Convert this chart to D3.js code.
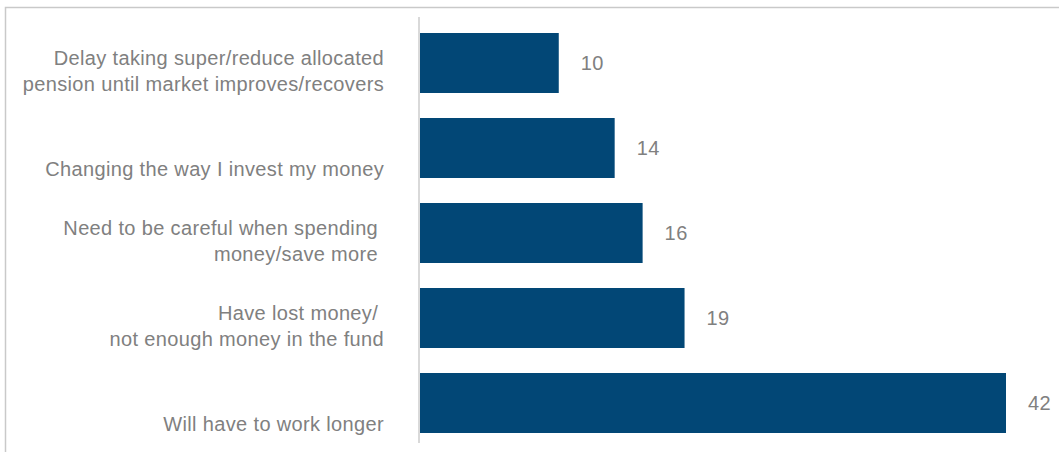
<!DOCTYPE html>
<html>
<head>
<meta charset="utf-8">
<script src="https://cdn.jsdelivr.net/npm/d3@7"></script>
<style>
  body { margin: 0; background: #fff; }
  text { font-family: "Liberation Sans", Arial, sans-serif; white-space: pre; }
</style>
</head>
<body>
<div id="chart"></div>
<script>
// categories, top to bottom ("\n" splits a label in two lines)
const categories = [
    "Delay taking super/reduce allocated\npension until market improves/recovers",
    "\nChanging the way I invest my money",
    "Need to be careful when spending \nmoney/save more ",
    "Have lost money/ \nnot enough money in the fund",
    "\nWill have to work longer"
];
const values = [10, 14, 16, 19, 42];

function main() {
    const width = 1059;
    const height = 452;

    const svg = d3.select("#chart").append("svg")
        .attr("width", width)
        .attr("height", height)

    // frame (top + left edge only)
    svg.append("path")
        .attr("d", "M5.5," + height + "V7.5H" + width)
        .attr("fill", "none")
        .attr("stroke", "#c9c9c9")
        .attr("stroke-width", 1.5)

    const x = d3.scaleLinear().domain([0, 42]).range([419, 1006])

    const y = d3.scaleBand()
        .domain(categories)
        .range([33, 433])
        .paddingInner(25 / 85)

    // vertical axis line
    svg.append("line")
        .attr("x1", x(0)).attr("x2", x(0))
        .attr("y1", 17).attr("y2", 443)
        .attr("stroke", "#cccccc")
        .attr("stroke-width", 1.5)

    const data = categories.map((c, i) => ({ cat: c, value: values[i] }))

    svg.append("g")
        .selectAll("rect")
        .data(data)
        .enter().append("rect")
        .attr("x", x(0) + 1)
        .attr("y", d => y(d.cat))
        .attr("width", d => x(d.value) - x(0) - 1)
        .attr("height", y.bandwidth())
        .attr("fill", "#024776")

    // value labels
    svg.append("g")
        .selectAll("text")
        .data(data)
        .enter().append("text")
        .attr("x", d => x(d.value) + 22)
        .attr("y", d => y(d.cat) + y.bandwidth() / 2)
        .attr("dy", "0.36em")
        .attr("fill", "#808080")
        .style("font-size", "20px")
        .style("letter-spacing", "0.4px")
        .text(d => d.value)

    // category labels
    const labels = svg.append("g")
        .selectAll("text")
        .data(data)
        .enter().append("text")
        .attr("text-anchor", "end")
        .attr("fill", "#808080")
        .style("font-size", "20px")
        .style("letter-spacing", "0.35px")

    labels.selectAll("tspan")
        .data(d => d.cat.split("\n").map((t, i) => ({ t: t, i: i, cat: d.cat })))
        .enter().append("tspan")
        .attr("x", 384)
        .attr("y", d => y(d.cat) + y.bandwidth() / 2 + 2 + d.i * 26)
        .text(d => d.t)
}
main();
</script>
</body>
</html>
